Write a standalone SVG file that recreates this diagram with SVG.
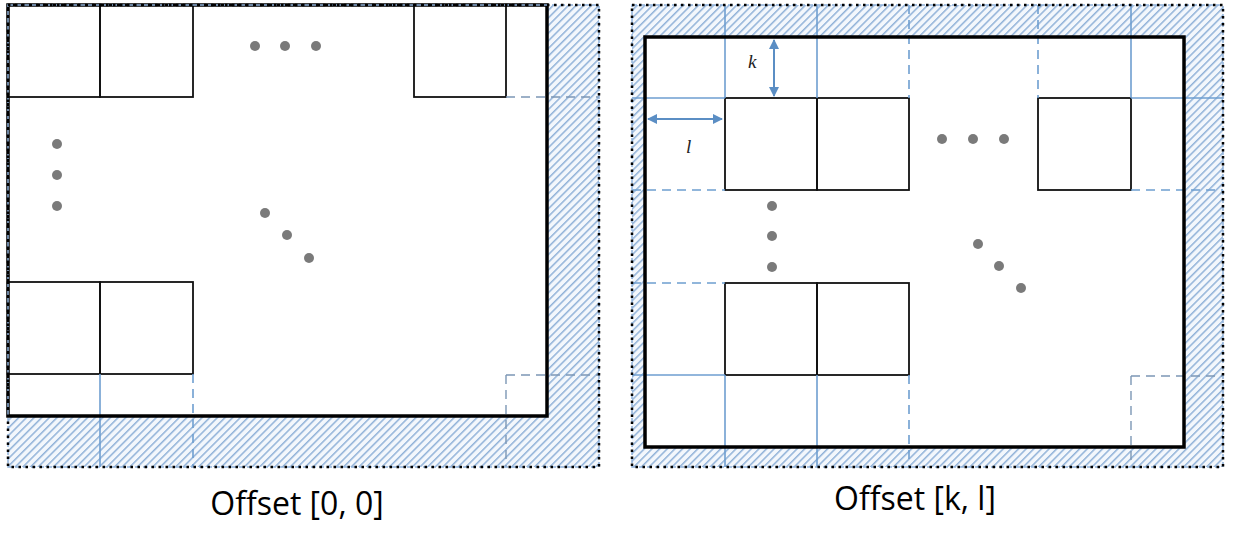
<svg xmlns="http://www.w3.org/2000/svg" width="1233" height="546" viewBox="0 0 1233 546">
<style>
.tile{fill:none;stroke:#111;stroke-width:1.8}
.thick{fill:none;stroke:#000;stroke-width:3.5}
.dots{fill:none;stroke:#000;stroke-width:2.5;stroke-dasharray:2.5 4.5}
.bdash{fill:none;stroke:#8fb0d8;stroke-width:1.5;stroke-dasharray:5 3}
.bl{fill:none;stroke:#6e9ed0;stroke-width:1.6}
.bd{fill:none;stroke:#6e9ed0;stroke-width:1.6;stroke-dasharray:9 6}
.gd{fill:none;stroke:#7c97b5;stroke-width:1.4;stroke-dasharray:9 6}
.dot{fill:#7a7a7a}
.hatch{fill:url(#h);fill-rule:evenodd}
.cap{font-family:"Open Sans","Noto Sans",sans-serif;font-size:32px;fill:#000;text-anchor:middle}
.var{font-family:"Liberation Serif",serif;font-style:italic;font-size:19px;fill:#222}
.arr{fill:none;stroke:#5b8ec4;stroke-width:2;marker-start:url(#a);marker-end:url(#a)}
</style>
<defs>
<pattern id="h" patternUnits="userSpaceOnUse" width="5.4" height="5.4" patternTransform="rotate(45)">
<rect width="5.4" height="5.4" fill="#f3f7fc"/>
<line x1="0.8" y1="0" x2="0.8" y2="5.4" stroke="#6694c9" stroke-width="1.05"/>
</pattern>
<marker id="a" viewBox="0 0 10 10" refX="9" refY="5" markerWidth="5" markerHeight="5" orient="auto-start-reverse" markerUnits="strokeWidth">
<path d="M0,0 L10,5 L0,10 z" fill="#5b8ec4"/>
</marker>
</defs>

<g id="panel-left">
<path class="hatch" d="M8,5 H599 V467 H8 Z M8,5 V416 H547 V5 Z"/>
<g id="left-tiles">
<rect class="tile" x="8" y="5" width="92" height="92"/>
<rect class="tile" x="100" y="5" width="93" height="92"/>
<rect class="tile" x="414" y="5" width="92" height="92"/>
<rect class="tile" x="8" y="282" width="92" height="92"/>
<rect class="tile" x="100" y="282" width="93" height="92"/>
</g>
<g id="left-padding-tiles">
<line class="gd" x1="506" y1="97" x2="599" y2="97"/>
<line class="bl" x1="100" y1="374" x2="100" y2="467"/>
<line class="bd" x1="193" y1="374" x2="193" y2="467"/>
<line class="gd" x1="506" y1="375" x2="506" y2="467"/>
<line class="gd" x1="506" y1="375" x2="599" y2="375"/>
</g>
<g id="left-dots">
<circle class="dot" cx="255" cy="46" r="5"/><circle class="dot" cx="285" cy="46" r="5"/><circle class="dot" cx="316" cy="46" r="5"/>
<circle class="dot" cx="57" cy="144" r="5"/><circle class="dot" cx="57" cy="175" r="5"/><circle class="dot" cx="57" cy="206" r="5"/>
<circle class="dot" cx="265" cy="213" r="5"/><circle class="dot" cx="287" cy="235" r="5"/><circle class="dot" cx="309" cy="258" r="5"/>
</g>
<rect class="thick" x="8" y="5" width="539" height="411"/>
<rect class="bdash" x="8" y="5" width="591" height="462"/>
<rect class="dots" x="8" y="5" width="591" height="462"/>
<text class="cap" x="297" y="515">Offset [0, 0]</text>
</g>

<g id="panel-right">
<path class="hatch" d="M632,5 H1223 V467 H632 Z M645,37 V447 H1184 V37 Z"/>
<g id="right-tiles">
<rect class="tile" x="725" y="98" width="92" height="92"/>
<rect class="tile" x="817" y="98" width="92" height="92"/>
<rect class="tile" x="1038" y="98" width="93" height="92"/>
<rect class="tile" x="725" y="283" width="92" height="92"/>
<rect class="tile" x="817" y="283" width="92" height="92"/>
</g>
<g id="right-grid">
<line class="bl" x1="725" y1="5" x2="725" y2="98"/>
<line class="bl" x1="817" y1="5" x2="817" y2="98"/>
<line class="bd" x1="909" y1="5" x2="909" y2="98"/>
<line class="bl" x1="632" y1="98" x2="725" y2="98"/>
<line class="bd" x1="632" y1="190" x2="725" y2="190"/>
<line class="bd" x1="1038" y1="5" x2="1038" y2="98"/>
<line class="bl" x1="1131" y1="5" x2="1131" y2="98"/>
<line class="bl" x1="1131" y1="98" x2="1223" y2="98"/>
<line class="bd" x1="1131" y1="190" x2="1223" y2="190"/>
<line class="bd" x1="632" y1="283" x2="725" y2="283"/>
<line class="bl" x1="632" y1="375" x2="725" y2="375"/>
<line class="bl" x1="725" y1="375" x2="725" y2="467"/>
<line class="bl" x1="817" y1="375" x2="817" y2="467"/>
<line class="bd" x1="909" y1="375" x2="909" y2="467"/>
<line class="gd" x1="1131" y1="376" x2="1131" y2="467"/>
<line class="gd" x1="1131" y1="376" x2="1223" y2="376"/>
</g>
<g id="right-dots">
<circle class="dot" cx="942" cy="139" r="5"/><circle class="dot" cx="973" cy="139" r="5"/><circle class="dot" cx="1004" cy="139" r="5"/>
<circle class="dot" cx="772" cy="206" r="5"/><circle class="dot" cx="772" cy="236" r="5"/><circle class="dot" cx="772" cy="267" r="5"/>
<circle class="dot" cx="978" cy="244" r="5"/><circle class="dot" cx="999" cy="266" r="5"/><circle class="dot" cx="1021" cy="288" r="5"/>
</g>
<rect class="thick" x="645" y="37" width="539" height="410"/>
<rect class="bdash" x="632" y="5" width="591" height="462"/>
<rect class="dots" x="632" y="5" width="591" height="462"/>
<g id="offset-arrows">
<line class="arr" x1="648" y1="119" x2="722" y2="119"/>
<line class="arr" x1="774" y1="40" x2="774" y2="96"/>
<text class="var" x="748" y="68">k</text>
<text class="var" x="686" y="153">l</text>
</g>
<text class="cap" x="915" y="510">Offset [k, l]</text>
</g>
</svg>
